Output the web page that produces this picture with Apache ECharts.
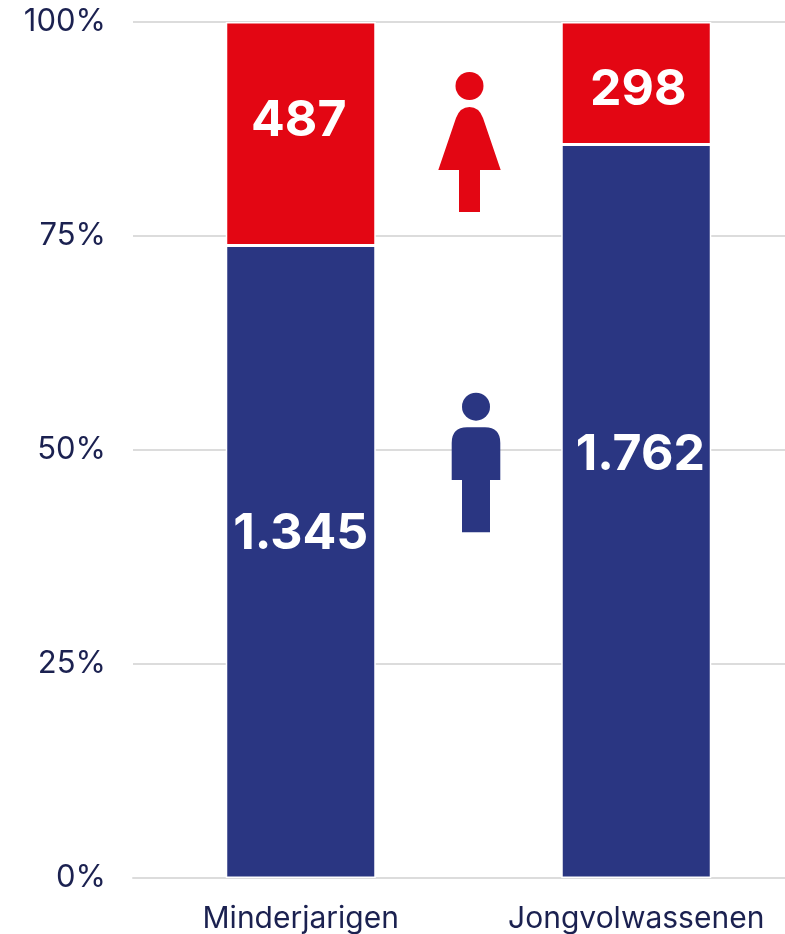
<!DOCTYPE html>
<html>
<head>
<meta charset="utf-8">
<title>Minderjarigen en jongvolwassenen</title>
<style>
  html, body { margin: 0; padding: 0; background: #fff; overflow: hidden; }
  #chart { width: 785px; height: 934px; }
</style>
<script src="https://cdn.jsdelivr.net/npm/echarts@6/dist/echarts.min.js"></script>
</head>
<body>
<div id="chart"></div>
<script>
var categories = ['Minderjarigen', 'Jongvolwassenen']
var yTicks = [0, 25, 50, 75, 100]

// aandeel in procent
var maleShare = [73.9, 85.7]
var femaleShare = [26.1, 14.3]
// aantallen zoals ze op de balken staan
var maleCounts = ['1.345', '1.762']
var femaleCounts = ['487', '298']

var textColor = '#1b2150'
var fontFamily = 'Inter, "Noto Sans", sans-serif'

function barLabel(text, offset) {
  return {
    show: true,
    position: 'inside',
    offset: offset,
    formatter: text,
    color: '#fff',
    fontFamily: fontFamily,
    fontWeight: 700,
    fontSize: 50
  }
}

var maleOffsets = [[0, -28], [4, -56]]
var femaleOffsets = [[-2, -13], [2, 7]]

// poppetjes als eigen vormen
echarts.graphic.registerShape('womanBody', echarts.graphic.extendShape({
  buildPath: function (ctx) {
    ctx.moveTo(459, 212)
    ctx.lineTo(459, 170)
    ctx.lineTo(438.3, 170)
    ctx.lineTo(456, 118)
    ctx.quadraticCurveTo(460, 107, 469.5, 107)
    ctx.quadraticCurveTo(479, 107, 483, 118)
    ctx.lineTo(500.7, 170)
    ctx.lineTo(480, 170)
    ctx.lineTo(480, 212)
    ctx.closePath()
  }
}))
echarts.graphic.registerShape('manBody', echarts.graphic.extendShape({
  buildPath: function (ctx) {
    ctx.moveTo(462, 532.3)
    ctx.lineTo(462, 480)
    ctx.lineTo(451.7, 480)
    ctx.lineTo(451.7, 443)
    ctx.quadraticCurveTo(451.7, 427.3, 467, 427.3)
    ctx.lineTo(485, 427.3)
    ctx.quadraticCurveTo(500.3, 427.3, 500.3, 443)
    ctx.lineTo(500.3, 480)
    ctx.lineTo(490, 480)
    ctx.lineTo(490, 532.3)
    ctx.closePath()
  }
}))

var chart = echarts.init(document.getElementById('chart'), null, { renderer: 'canvas' })

chart.setOption({
  animation: false,
  backgroundColor: '#fff',
  grid: { left: 133, width: 671, top: 22, height: 856, containLabel: false, outerBoundsMode: 'none' },
  xAxis: {
    type: 'category',
    data: categories,
    axisLine: { show: true, lineStyle: { color: '#dcdcdc', width: 2 } },
    axisTick: { show: false },
    axisLabel: {
      color: textColor,
      fontFamily: fontFamily,
      fontSize: 30,
      margin: 26,
      interval: 0
    }
  },
  yAxis: {
    type: 'value',
    min: 0,
    max: 100,
    interval: 25,
    axisLine: { show: false },
    axisTick: { show: false },
    splitLine: { lineStyle: { color: '#dcdcdc', width: 2 } },
    axisLabel: {
      color: textColor,
      fontFamily: fontFamily,
      fontSize: 31,
      margin: 27,
      padding: [2, 0, 0, 0],
      formatter: function (v) {
        return yTicks.indexOf(v) > -1 ? v + '%' : ''
      }
    }
  },
  series: [
    {
      name: 'Mannen',
      type: 'bar',
      stack: 'totaal',
      barWidth: 150,
      itemStyle: { color: '#2a3682', borderColor: '#fff', borderWidth: 1.5 },
      data: maleShare.map(function (v, i) {
        return { value: v, label: barLabel(maleCounts[i], maleOffsets[i]) }
      })
    },
    {
      name: 'Vrouwen',
      type: 'bar',
      stack: 'totaal',
      barWidth: 150,
      itemStyle: { color: '#e30613', borderColor: '#fff', borderWidth: 1.5 },
      data: femaleShare.map(function (v, i) {
        return { value: v, label: barLabel(femaleCounts[i], femaleOffsets[i]) }
      })
    }
  ],
  graphic: [
    { type: 'circle', z: 10, shape: { cx: 469.5, cy: 86, r: 14 }, style: { fill: '#e30613' } },
    { type: 'womanBody', z: 10, style: { fill: '#e30613' } },
    { type: 'circle', z: 10, shape: { cx: 476, cy: 406.7, r: 14 }, style: { fill: '#2a3682' } },
    { type: 'manBody', z: 10, style: { fill: '#2a3682' } }
  ]
})
</script>
</body>
</html>
